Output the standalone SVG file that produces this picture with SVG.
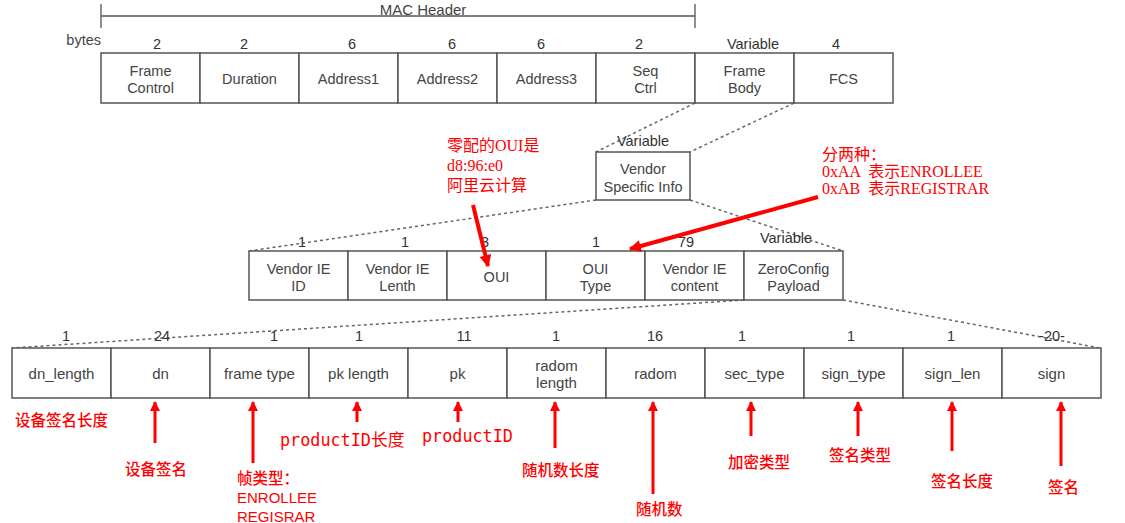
<svg xmlns="http://www.w3.org/2000/svg" width="1125" height="523" viewBox="0 0 1125 523">
<defs>
<style>
.box{fill:#fff;stroke:#555;stroke-width:1.5}
.t{font-family:"Liberation Sans",Arial,sans-serif;font-size:14.5px;fill:#444;text-anchor:middle}
.b{font-family:"Liberation Sans",Arial,sans-serif;font-size:15px;fill:#444;text-anchor:middle}
.n{font-family:"Liberation Sans",Arial,sans-serif;font-size:14.5px;fill:#333;text-anchor:middle}
.dash{stroke:#666;stroke-width:1.5;stroke-dasharray:3 3;fill:none}
.rs{font-family:"Liberation Serif","Noto Sans CJK SC",serif;font-size:16px;fill:#f00}
.rc{font-family:"Noto Sans CJK SC","Liberation Sans",sans-serif;font-size:15.5px;font-weight:500;fill:#f00}
.re{font-family:"Liberation Sans",Arial,sans-serif;font-size:15px;fill:#f00}
.rm{font-family:"DejaVu Sans Mono","Noto Sans CJK SC",monospace;font-size:16.8px;fill:#f00}
.ra{stroke:#f00;stroke-width:4;fill:none}
.rb{stroke:#f00;stroke-width:3;fill:none}
</style>
<marker id="ah" viewBox="0 0 10 10" refX="9" refY="5" markerWidth="14" markerHeight="12" markerUnits="userSpaceOnUse" orient="auto"><path d="M0,0L10,5L0,10z" fill="#f00"/></marker>
<marker id="ahs" viewBox="0 0 10 10" refX="9" refY="5" markerWidth="11" markerHeight="10" markerUnits="userSpaceOnUse" orient="auto"><path d="M0,0L10,5L0,10z" fill="#f00"/></marker>
</defs>
<rect width="1125" height="523" fill="#fff"/>

<g id="mac-header">
<path d="M101,4V28M101,16H695M695,4V28" stroke="#555" stroke-width="1.3" fill="none"/>
<text class="t" x="423" y="15" style="font-size:15px">MAC Header</text>
<text class="t" x="101" y="45" style="text-anchor:end">bytes</text>
</g>

<g id="connectors">
<path class="dash" d="M695,103L596,152M794,103L690,152"/>
<path class="dash" d="M596,200L249,251M690,200L843,251"/>
<path class="dash" d="M744,300L12,348M843,300L1100,348"/>
</g>

<g id="frame-row">
<rect class="box" x="101" y="53" width="99" height="50"/><text class="n" x="157" y="49">2</text><text class="t" x="150.5" y="76">Frame</text><text class="t" x="150.5" y="93">Control</text>
<rect class="box" x="200" y="53" width="99" height="50"/><text class="n" x="244" y="49">2</text><text class="t" x="249.5" y="84">Duration</text>
<rect class="box" x="299" y="53" width="99" height="50"/><text class="n" x="352" y="49">6</text><text class="t" x="348.5" y="84">Address1</text>
<rect class="box" x="398" y="53" width="99" height="50"/><text class="n" x="452" y="49">6</text><text class="t" x="447.5" y="84">Address2</text>
<rect class="box" x="497" y="53" width="99" height="50"/><text class="n" x="541" y="49">6</text><text class="t" x="546.5" y="84">Address3</text>
<rect class="box" x="596" y="53" width="99" height="50"/><text class="n" x="639" y="49">2</text><text class="t" x="645.5" y="76">Seq</text><text class="t" x="645.5" y="93">Ctrl</text>
<rect class="box" x="695" y="53" width="99" height="50"/><text class="n" x="753" y="49">Variable</text><text class="t" x="744.5" y="76">Frame</text><text class="t" x="744.5" y="93">Body</text>
<rect class="box" x="794" y="53" width="99" height="50"/><text class="n" x="836" y="49">4</text><text class="t" x="843.5" y="84">FCS</text>
</g>

<g id="vendor-specific">
<rect class="box" x="596" y="152" width="94" height="48"/>
<text class="n" x="643" y="146">Variable</text>
<text class="t" x="643" y="174">Vendor</text>
<text class="t" x="643" y="192">Specific Info</text>
</g>

<g id="vendor-row">
<rect class="box" x="249" y="251" width="99" height="49"/><text class="n" x="302" y="247">1</text><text class="t" x="298.5" y="274">Vendor IE</text><text class="t" x="298.5" y="291">ID</text>
<rect class="box" x="348" y="251" width="99" height="49"/><text class="n" x="405" y="247">1</text><text class="t" x="397.5" y="274">Vendor IE</text><text class="t" x="397.5" y="291">Lenth</text>
<rect class="box" x="447" y="251" width="99" height="49"/><text class="n" x="485" y="247">3</text><text class="t" x="496.5" y="282">OUI</text>
<rect class="box" x="546" y="251" width="99" height="49"/><text class="n" x="596" y="247">1</text><text class="t" x="595.5" y="274">OUI</text><text class="t" x="595.5" y="291">Type</text>
<rect class="box" x="645" y="251" width="99" height="49"/><text class="n" x="686" y="247">79</text><text class="t" x="694.5" y="274">Vendor IE</text><text class="t" x="694.5" y="291">content</text>
<rect class="box" x="744" y="251" width="99" height="49"/><text class="n" x="786" y="243">Variable</text><text class="t" x="793.5" y="274">ZeroConfig</text><text class="t" x="793.5" y="291">Payload</text>
</g>

<g id="payload-row">
<rect class="box" x="12" y="348" width="99" height="50"/><text class="n" x="66" y="341">1</text><text class="b" x="61.5" y="379">dn_length</text>
<rect class="box" x="111" y="348" width="99" height="50"/><text class="n" x="162" y="341">24</text><text class="b" x="160.5" y="379">dn</text>
<rect class="box" x="210" y="348" width="99" height="50"/><text class="n" x="274" y="341">1</text><text class="b" x="259.5" y="379">frame type</text>
<rect class="box" x="309" y="348" width="99" height="50"/><text class="n" x="359" y="341">1</text><text class="b" x="358.5" y="379">pk length</text>
<rect class="box" x="408" y="348" width="99" height="50"/><text class="n" x="464" y="341">11</text><text class="b" x="457.5" y="379">pk</text>
<rect class="box" x="507" y="348" width="99" height="50"/><text class="n" x="556" y="341">1</text><text class="b" x="556.5" y="371">radom</text><text class="b" x="556.5" y="388">length</text>
<rect class="box" x="606" y="348" width="99" height="50"/><text class="n" x="655" y="341">16</text><text class="b" x="655.5" y="379">radom</text>
<rect class="box" x="705" y="348" width="99" height="50"/><text class="n" x="742" y="341">1</text><text class="b" x="754.5" y="379">sec_type</text>
<rect class="box" x="804" y="348" width="99" height="50"/><text class="n" x="851" y="341">1</text><text class="b" x="853.5" y="379">sign_type</text>
<rect class="box" x="903" y="348" width="99" height="50"/><text class="n" x="951" y="341">1</text><text class="b" x="952.5" y="379">sign_len</text>
<rect class="box" x="1002" y="348" width="99" height="50"/><text class="n" x="1052" y="341">-20-</text><text class="b" x="1051.5" y="379">sign</text>
</g>

<g id="annotation-connectors">
<path class="ra" d="M473,205L488,266" marker-end="url(#ah)"/>
<path class="ra" d="M818,197L630,249" marker-end="url(#ah)"/>
<path class="rb" d="M155,443V402" marker-end="url(#ahs)"/>
<path class="rb" d="M253,463V402" marker-end="url(#ahs)"/>
<path class="rb" d="M357,422V402" marker-end="url(#ahs)"/>
<path class="rb" d="M458,422V402" marker-end="url(#ahs)"/>
<path class="rb" d="M555,448V402" marker-end="url(#ahs)"/>
<path class="rb" d="M653,494V402" marker-end="url(#ahs)"/>
<path class="rb" d="M751,436V402" marker-end="url(#ahs)"/>
<path class="rb" d="M858,436V402" marker-end="url(#ahs)"/>
<path class="rb" d="M952,451V402" marker-end="url(#ahs)"/>
<path class="rb" d="M1061,466V402" marker-end="url(#ahs)"/>
</g>

<g id="note-oui">
<text class="rs" x="447" y="151">零配的OUI是</text>
<text class="rs" x="447" y="171">d8:96:e0</text>
<text class="rs" x="447" y="191">阿里云计算</text>
</g>
<g id="note-type">
<text class="rs" x="822" y="160">分两种：</text>
<text class="rs" x="822" y="177" xml:space="preserve">0xAA  表示ENROLLEE</text>
<text class="rs" x="822" y="194" xml:space="preserve">0xAB  表示REGISTRAR</text>
</g>

<g id="labels">
<text class="rc" x="15" y="426">设备签名长度</text>
<text class="rc" x="125" y="475">设备签名</text>
<text class="rc" x="237" y="484">帧类型：</text>
<text class="re" x="237" y="503">ENROLLEE</text>
<text class="re" x="237" y="522">REGISRAR</text>
<text class="rm" x="280" y="446">productID长度</text>
<text class="rm" x="422" y="442">productID</text>
<text class="rc" x="522" y="476">随机数长度</text>
<text class="rc" x="636" y="515">随机数</text>
<text class="rc" x="728" y="468">加密类型</text>
<text class="rc" x="829" y="461">签名类型</text>
<text class="rc" x="931" y="487">签名长度</text>
<text class="rc" x="1048" y="493">签名</text>
</g>
</svg>
